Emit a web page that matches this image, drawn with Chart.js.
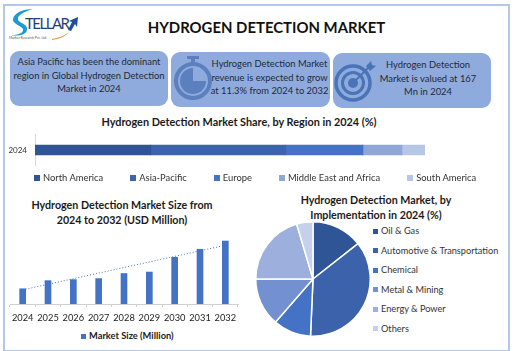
<!DOCTYPE html>
<html>
<head>
<meta charset="utf-8">
<title>Hydrogen Detection Market</title>
<script src="https://cdn.jsdelivr.net/npm/chart.js@4"></script>
<style>
  html, body { margin: 0; padding: 0; background: #fff; }
  body { width: 518px; height: 351px; position: relative; overflow: hidden; font-family: Lato, sans-serif; color: #1a1a1a; }
  #marco { position: absolute; left: 3px; top: 4px; width: 503px; height: 344px; border: 2px solid #b4c7e7; }
  .abs { position: absolute; }
  h1, .titulo { position: absolute; margin: 0; text-align: center; font-weight: 700; white-space: nowrap; }
  h1 { left: 100px; width: 333px; top: 16px; font-size: 14.9px; line-height: 22px; color: #111; }
  .titulo { font-size: 10.7px; line-height: 14.5px; color: #1a1a1a; }
  .tarjeta { position: absolute; background: #8faadc; border-radius: 9px; height: 55px; font-size: 9.4px; line-height: 13.5px; text-align: center; color: #1f2a3a; box-sizing: border-box; white-space: nowrap; }
  canvas { position: absolute; }
  .leyenda { position: absolute; display: flex; color: #333; white-space: nowrap; }
  .leyenda span { display: flex; align-items: center; }
  .leyenda i { display: block; margin-right: 3px; }
  #leyendaRegion { left: 34px; top: 172px; gap: 27px; font-size: 9.4px; line-height: 12px; }
  #leyendaRegion i { width: 6px; height: 6px; }
  #leyendaTamano { left: 81px; top: 330px; font-size: 9.3px; line-height: 12px; font-weight: 700; color: #222; }
  #leyendaTamano i { width: 5px; height: 5px; }
  #leyendaPie { left: 373px; top: 225px; flex-direction: column; gap: 7.6px; font-size: 9.2px; line-height: 12px; }
  #leyendaPie i { width: 5px; height: 5px; }
</style>
</head>
<body>
<div id="marco"></div>

<svg class="abs" style="left:8px;top:8px" width="76" height="36" viewBox="0 0 76 36">
  <path d="M25 1 C15 1 6 5 5 11 C4 16 13 17 15 21 C16 25 10 27 3 27 C12 29 20 26 19 20 C18 15 9 15 10 10 C11 6 18 3 25 1Z" fill="#1c9ad6"/>
  <text x="17" y="21" font-family="Lato" font-size="15" fill="#1f3f7a" textLength="45">TELLAR</text>
  <path d="M60 22 L64 14 L61 13 L70 9 L69 19 L67 16 L63 23Z" fill="#1f4e9c"/>
  <path d="M44 31 C50 30 56 28 61 24 C57 29 51 31 44 32Z" fill="#e8933a"/>
  <text x="1" y="31" font-family="Lato" font-size="3.4" fill="#555">Market Research Pvt. Ltd.</text>
</svg>
<h1>HYDROGEN DETECTION MARKET</h1>

<div class="tarjeta" style="left:10px;top:51px;width:158px;padding-top:4px">Asia Pacific has been the dominant<br>region in Global Hydrogen Detection<br>Market in 2024</div>
<div class="tarjeta" style="left:171px;top:52px;width:159px;padding:5px 0 0 38px">Hydrogen Detection Market<br>revenue is expected to grow<br>at 11.3% from 2024 to 2032</div>
<div class="tarjeta" style="left:333px;top:53px;width:158px;padding:5px 0 0 32px">Hydrogen Detection<br>Market is valued at 167<br>Mn in 2024</div>

<svg class="abs" style="left:173px;top:54px" width="42" height="48" viewBox="0 0 42 48">
  <rect x="14" y="2" width="12" height="3" fill="#5b80bd"/>
  <rect x="18" y="4" width="4" height="6" fill="#5b80bd"/>
  <circle cx="20" cy="27" r="17" fill="none" stroke="#5b80bd" stroke-width="4"/>
  <path d="M20 27 L20 14 A13 13 0 1 0 33 27 Z" fill="#5b80bd"/>
</svg>
<svg class="abs" style="left:333px;top:58px" width="44" height="44" viewBox="0 0 44 44">
  <circle cx="20" cy="25" r="17" fill="none" stroke="#4a74b8" stroke-width="3.5"/>
  <circle cx="20" cy="25" r="10.5" fill="none" stroke="#4a74b8" stroke-width="3"/>
  <circle cx="20" cy="25" r="5" fill="#4a74b8"/>
  <path d="M20 25 L36 9" stroke="#4a74b8" stroke-width="2"/>
  <path d="M33 8 L38 3 L39 7 L43 8 L37 13 Z" fill="#4a74b8"/>
</svg>

<div class="titulo" style="left:0;width:478px;top:115px;font-size:10.85px">Hydrogen Detection Market Share, by Region in 2024 (%)</div>
<canvas id="graficaRegion" style="left:0;top:122px" width="425" height="56"></canvas>
<div class="leyenda" id="leyendaRegion"></div>

<div class="titulo" style="left:0;width:244px;top:198px">Hydrogen Detection Market Size from<br>2024 to 2032 (USD Million)</div>
<canvas id="graficaTamano" style="left:0;top:231px" width="248" height="94"></canvas>
<div class="leyenda" id="leyendaTamano"></div>

<div class="titulo" style="left:256px;width:240px;top:193px">Hydrogen Detection Market, by<br>Implementation in 2024 (%)</div>
<canvas id="graficaPie" style="left:255px;top:221px" width="116" height="116"></canvas>
<div class="leyenda" id="leyendaPie"></div>

<script>
Chart.defaults.font.family = 'Lato, sans-serif';
Chart.defaults.animation = false;
Chart.defaults.responsive = false;

// Market share by region
const anioRegion = ['2024'];
const regiones = ['North America', 'Asia-Pacific', 'Europe', 'Middle East and Africa', 'South America'];
const valoresRegion = [29.7, 34.6, 19.8, 10, 5.9];
const coloresRegion = ['#2f5597', '#3b64ad', '#4472c4', '#8fa6d8', '#b8c6e6'];

// Market size by year
const anios = ['2024', '2025', '2026', '2027', '2028', '2029', '2030', '2031', '2032'];
const tamanoMercado = [167, 256, 267, 278, 334, 350, 512, 600, 690];
const tendencia = [155, null, null, null, null, null, null, null, 644];
const etiquetaTamano = 'Market Size (Million)';
const colorTamano = '#4472c4';

// Market share by implementation
const implementaciones = ['Oil & Gas', 'Automotive & Transportation', 'Chemical', 'Metal & Mining', 'Energy & Power', 'Others'];
const valoresImplementacion = [14.4, 36.3, 10.7, 13.6, 20.4, 4.6];
const coloresImplementacion = ['#2f5597', '#3b62aa', '#4472c4', '#7390d0', '#9dafdc', '#c5d0ea'];

// The legends are plain HTML so they can sit exactly where they do in the picture
function crearLeyenda(id, etiquetas, colores) {
  const contenedor = document.getElementById(id);
  etiquetas.forEach((etiqueta, i) => {
    const item = document.createElement('span');
    const caja = document.createElement('i');
    caja.style.background = colores[i];
    item.appendChild(caja);
    item.appendChild(document.createTextNode(etiqueta));
    contenedor.appendChild(item);
  });
}

crearLeyenda('leyendaRegion', regiones, coloresRegion);
crearLeyenda('leyendaTamano', [etiquetaTamano], [colorTamano]);
crearLeyenda('leyendaPie', implementaciones, coloresImplementacion);

new Chart(document.getElementById('graficaRegion'), {
  type: 'bar',
  data: {
    labels: anioRegion,
    datasets: regiones.map((region, i) => ({
      label: region,
      data: [valoresRegion[i]],
      backgroundColor: coloresRegion[i],
      barThickness: 10
    }))
  },
  options: {
    indexAxis: 'y',
    scales: {
      x: { stacked: true, min: 0, max: 100, display: false },
      y: {
        stacked: true,
        afterFit: s => { s.width = 35; },
        grid: { display: false, drawTicks: false },
        border: { color: '#d9d9d9' },
        ticks: { color: '#333', font: { size: 8 }, padding: 8 }
      }
    },
    plugins: { legend: { display: false }, tooltip: { enabled: false } }
  }
});

new Chart(document.getElementById('graficaTamano'), {
  data: {
    labels: anios,
    datasets: [
      {
        type: 'line',
        data: tendencia,
        spanGaps: true,
        borderColor: colorTamano,
        borderWidth: 1,
        borderDash: [1, 2],
        pointRadius: 0
      },
      {
        type: 'bar',
        label: etiquetaTamano,
        data: tamanoMercado,
        backgroundColor: colorTamano,
        barThickness: 6
      }
    ]
  },
  options: {
    layout: { padding: { left: 10, right: 10 } },
    scales: {
      x: {
        afterFit: s => { s.height = 21; },
        grid: { display: true, drawOnChartArea: false, tickLength: 3, tickColor: '#d0d0d0', offset: true },
        border: { color: '#d0d0d0' },
        ticks: { color: '#222', font: { size: 9.3 }, padding: 5, maxRotation: 0, autoSkip: false }
      },
      y: { display: false, min: 0, max: 800 }
    },
    plugins: { legend: { display: false }, tooltip: { enabled: false } }
  }
});

new Chart(document.getElementById('graficaPie'), {
  type: 'pie',
  data: {
    labels: implementaciones,
    datasets: [{
      data: valoresImplementacion,
      backgroundColor: coloresImplementacion,
      borderColor: '#fff',
      borderWidth: 1.5
    }]
  },
  options: {
    plugins: { legend: { display: false }, tooltip: { enabled: false } }
  }
});
</script>
</body>
</html>
